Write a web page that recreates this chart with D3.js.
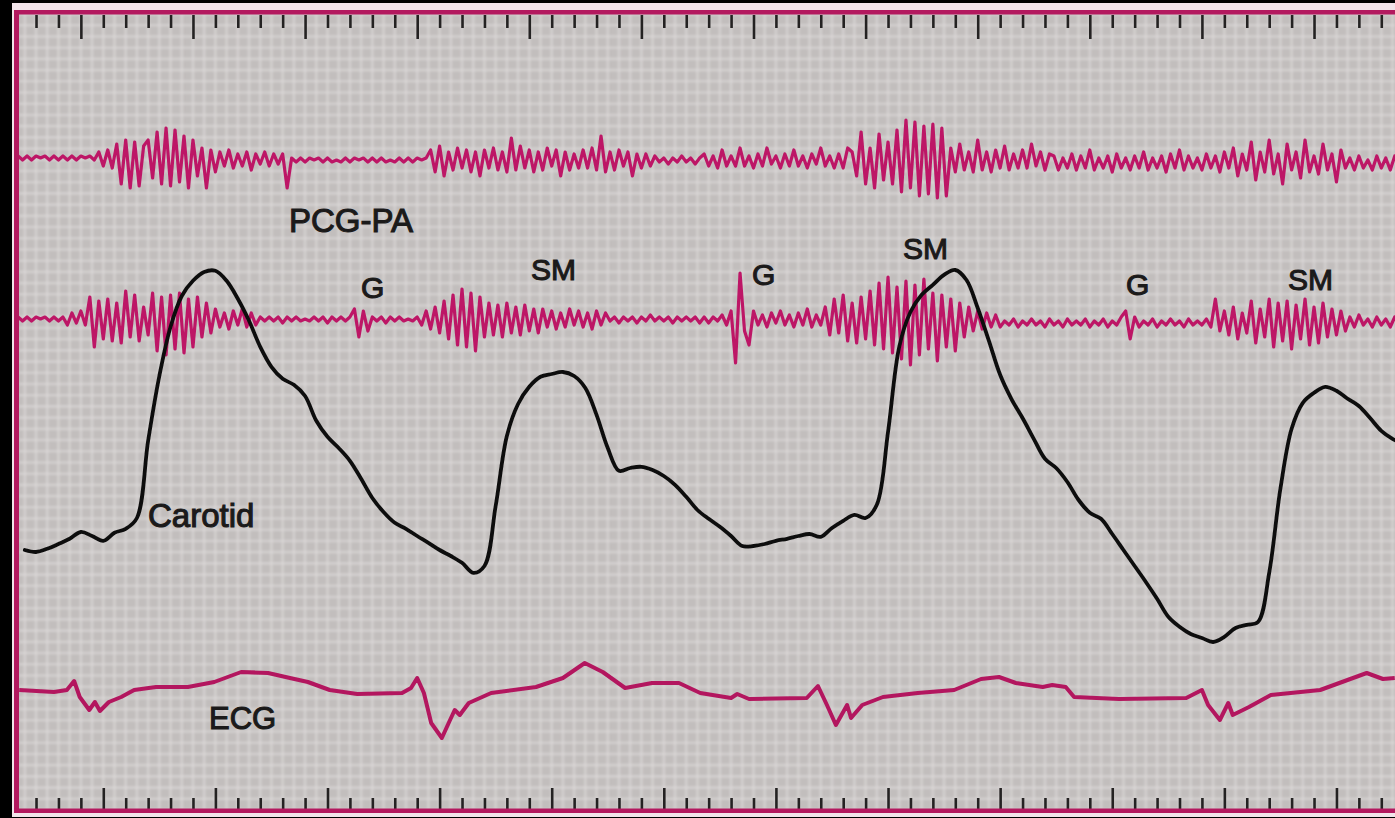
<!DOCTYPE html>
<html>
<head>
<meta charset="utf-8">
<script src="https://cdn.jsdelivr.net/npm/d3@7"></script>
<style>
  html, body { margin: 0; padding: 0; background: #000; }
  svg { display: block; }
  text { font-family: "Liberation Sans", Arial, Helvetica, sans-serif; }
</style>
</head>
<body>
<svg id="chart" width="1395" height="818"></svg>
<script>
// ---- Recording data -------------------------------------------------------
// Time base in ms. Phonocardiogram channels are sampled every 8 ms,
// the carotid pulse every 20 ms, the ECG is stored as (time, value) vertices.
const pcgStart = 8, pcgStep = 8;
const carotidStart = 20, carotidStep = 20;

// Pulmonary-area phonocardiogram (amplitude, arbitrary units)
const pcgPA = [
  2,0,2,0,2,1,2,0,2,0,2,0,2,0,2,1,2,0,
  4,-3,5,-4,
  8,-12,10,-14,9,-13,7,
  10,-9,14,-12,16,-13,15,-11,12,-14,10,-8,
  6,-14,5,-6,
  4,-3,5,-4,3,-3,4,-5,3,-2,4,-3,3,-2,
  3,-14,
  1,-1,1,-1,1,0,1,-1,1,-1,0,-1,1,-1,1,0,1,-1,1,-1,1,-1,0,-1,1,-1,1,-1,1,0,1,
  5,-6,7,-8,
  4,-5,6,-4,5,-6,4,-8,5,-4, 6,-5,4,-6,11,-5,7,-4,5,-6, 4,-5,6,-3,5,-8,4,-5,3,-4,
  5,-4,6,-5,12,-6,4,-5,5,-3, 4,-8,3,-4,3,-3,
  2,-1,1,-2,1,-1,2,-1,1,-2,1,
  3,-3,2,-4,5,-3,2,-3,6,-3, 2,-4,3,-3,6,-2,2,-4,3,-3, 5,-3,2,-4,3,-2,6,-3,2,-4, 3,-4,6,
  4,-8,14,-12,6,-14,13,-10,9,-12,15,-16,20,-14,19,-18,17,-17,18,-19,16,-18,6,
  -6,8,-5,4,-6,10,-5,4,-6,5,-4,7,-5,3,-4,5,-4,8,-3,4,-5,3,
  2,-5,1,-4,3,-5,2,-4,5,-5, 1,-4,2,-6,3,-4,1,-5,2,-4, 4,-5,1,-4,2,-6,3,-4,5,-5, 2,-4,1,-5,3,-4,2,-6,4,-4,
  6,-8,3,-5,9,-10,4,-6,10,-7,3,-12,8,-5,4,-9,10,-6,2,-7,8,-5,3,-11,5,-4,
  1,-5,2,-4,0,-5,2,-4,1,-5,2,-4
];

// Second phonocardiogram channel (gallop G and systolic murmur SM)
const pcgSecond = [
  1,-1,1,-1,1,0,1,-1,1,-1,1,
  -3,3,-2,4,-3,
  11,-14,9,
  -10,10,-11,8,
  -12,14,-9,12,-11,6,-8,
  13,-16,11,-18,12,-15,13,-17,10,-14,
  11,-9,8,-7,5,
  -4,3,-5,4,-3,5,-4,3,-3,
  1,-1,1,-1,1,-2,1,-1,1,-1,0,-1,1,-1,1,-2,1,-1,1,-1,1,
  5,-9,4,-6,
  1,-1,1,-2,1,-1,1,-1,0,-1,1,
  -3,4,-5,6,-7,9,-10,12,-13,15,-14,13,-16,11,
  -9,8,-8,7,-9,8,-7,6,-8,7,-6,5,-7,
  5,-4,4,-5,3,-4,5,-3,4,-4,3,-5,4,-3,3,
  -1,1,-2,1,-1,1,-2,1,-1,2,-1,1,-1,1,-2,1,-1,1,-1,1,-2,1,-2,1,-1,
  2,-3,4,-22,23,-6,-13,4,
  -3,2,-4,3,-2,4,-3,2,-4,3,-3,5,-4,2,-3,
  6,-8,10,-7,12,-11,8,-12,11,
  -10,14,-13,18,-15,21,-17,16,-20,19,-23,17,-18,20,-15,13,-21,12,-14,10,-16,8,-9,6,
  -6,4,-5,3,-4,2,-4,
  -1,-3,0,-4,-1,-3,0,-3,-1,-4, 0,-3,-1,-4,0,-3,-1,-3,0,-4, -1,-3,0,-4,-1,-3,1,4,-10,1,
  -4,-1,-3,0,-4,-1,-3,0,-3,-1, -4,0,-3,-1,-3,0,-4,
  10,
  -6,4,-8,6,-10,3,-7,9,-12,5,-9,10,-14,8,-11,9,-15,7,-10,10,-13,6,-12,8,-9,5,-8,4,-6,
  1,-4,2,-3,0,-4,1,-3,0,-4,1,-3
];

// Carotid pulse tracing (percent of full deflection)
const carotid = [
  25,24.5,25.3,26.5,27.8,29.5,28.5,27.3,29.3,30.3,
  33,52.3,68.5,80.8,88.5,92.3,94.5,94.8,92.3,87.8,
  82.3,75.8,70.8,67.8,66.3,63.5,57.3,53.3,50.5,47.3,
  42.8,38,34.5,31.8,30.3,28.5,26.8,25,23.5,21.8,
  19.3,21,36,53.5,61.5,65.8,68.3,69,69.5,68.5,
  65.5,58.8,50.5,44.8,45.5,45.8,45,43.5,41.3,38.3,
  35,32.8,30.8,28.5,26,26,26.5,27.3,27.8,28.5,
  29,28.3,30.5,32.3,33.8,33,36.3,54.5,75.8,84.5,
  88.8,91.3,93.8,95,92.5,85.5,77.3,68.8,62.8,58,
  52.8,47.8,45.5,42,37.5,34.3,32.8,29,25,21,
  17,12.8,8.3,5.8,4,3,2,3.3,5.5,6.3,
  7,19.3,40.3,55.3,61.8,64.3,65.8,64.8,62.8,61,
  58,54.8,52.8,51.5
];

// ECG vertices: time (ms) and deflection (arbitrary units)
const ecgTime = [
  10,72,95,108,118,135,145,154,170,192,
  215,254,311,358,406,454,493,525,564,613,
  693,709,720,732,745,764,777,787,796,812,
  852,932,980,1019,1051,1091,1139,1187,1225,1280,
  1291,1312,1415,1435,1451,1467,1487,1494,1514,1551,
  1613,1678,1726,1758,1788,1836,1853,1877,1892,1972,
  2092,2120,2131,2152,2167,2175,2204,2243,2331,2370,
  2414,2443,2464
];
const ecgValue = [
  0,-0.5,0,2.25,-1.75,-5,-3,-5.25,-3,-1.75,
  0,0.75,0.75,2,4.5,4.25,3,2,0,-1,
  -0.75,0.5,3,-0.75,-8.25,-12,-8,-5,-6.25,-3.25,
  -0.75,0.75,3,6.75,4.5,0.5,1.75,1.75,-0.75,-2,
  -1,-2.25,-2,1,-3.75,-8.75,-3.75,-7,-3.75,-1.75,
  -0.75,0,2.75,3.25,1.75,0.75,1.25,0.75,-1.75,-2.25,
  -2,0,-3.75,-7.5,-3.25,-6.25,-4.25,-1.25,0,2,
  4.25,2.75,3
];

// Annotation texts
const channelNames = ["PCG-PA", "Carotid", "ECG"];
const eventNames = ["G", "SM", "G", "SM", "G", "SM"];

// Timing marker settings (ms)
const markerStep = 40, markerEnd = 2460;
const topMajorPhase = 120, bottomMajorPhase = 160, majorEvery = 200;
const gridStep = 20;

// ---- Layout ---------------------------------------------------------------
const W = 1395, H = 818;
const paper = { x0: 19, x1: W, y0: 14, y1: 810 };
const svg = d3.select("#chart");

const x = d3.scaleLinear().domain([0, 2460]).range([13.6, 1392.5]);
const mmPx = x(gridStep) - x(0);

const yPA = d3.scaleLinear().domain([-20, 20]).range([200, 120]);
const ySecond = d3.scaleLinear().domain([-20, 20]).range([359, 279]);
const yCarotid = d3.scaleLinear().domain([0, 100]).range([650, 250]);
const yEcg = d3.scaleLinear().domain([-10, 10]).range([730, 650]);

// Background, paper edge and recording paper
svg.append("rect").attr("width", W).attr("height", H).attr("fill", "#000");
svg.append("rect").attr("x", 12).attr("y", 3).attr("width", W - 12).attr("height", 814)
  .attr("fill", "#f2e4ea");
svg.append("rect").attr("x", paper.x0).attr("y", paper.y0)
  .attr("width", paper.x1 - paper.x0).attr("height", paper.y1 - paper.y0)
  .attr("fill", "#c2bebd");

const defs = svg.append("defs");
defs.append("clipPath").attr("id", "paperClip").append("rect")
  .attr("x", paper.x0).attr("y", paper.y0)
  .attr("width", paper.x1 - paper.x0).attr("height", paper.y1 - paper.y0);
defs.append("filter").attr("id", "soft").append("feGaussianBlur").attr("stdDeviation", 0.9);
defs.append("filter").attr("id", "ink").append("feGaussianBlur").attr("stdDeviation", 0.35);

// Millimetre grid
const grid = svg.append("g").attr("clip-path", "url(#paperClip)")
  .attr("filter", "url(#soft)");
const vTimes = d3.range(0, markerEnd + gridStep, gridStep).filter(t => x(t) > paper.x0);
grid.selectAll("line.v").data(vTimes).join("line").attr("class", "v")
  .attr("x1", d => x(d)).attr("x2", d => x(d))
  .attr("y1", paper.y0).attr("y2", paper.y1)
  .attr("stroke", "#dedbda").attr("stroke-width", 2.6).attr("opacity", 0.6);
const hRows = d3.range(0, Math.ceil((paper.y1 - paper.y0) / mmPx) + 1);
grid.selectAll("line.h").data(hRows).join("line").attr("class", "h")
  .attr("x1", paper.x0).attr("x2", paper.x1)
  .attr("y1", d => paper.y1 - d * mmPx).attr("y2", d => paper.y1 - d * mmPx)
  .attr("stroke", "#dedbda").attr("stroke-width", 2.6).attr("opacity", 0.6);

// Timing markers along the top and bottom edges
const markerTimes = d3.range(markerStep, markerEnd, markerStep);
function drawMarks(y, axisFn, values, size) {
  const g = svg.append("g").attr("transform", `translate(0,${y})`)
    .call(axisFn(x).tickValues(values).tickSize(size).tickFormat(""));
  g.select(".domain").remove();
  g.selectAll(".tick line").attr("stroke", "#242222").attr("stroke-width", 2.6);
}
const isTopMajor = t => (t - topMajorPhase) % majorEvery === 0;
const isBottomMajor = t => (t - bottomMajorPhase) % majorEvery === 0;
drawMarks(15, d3.axisBottom, markerTimes.filter(t => !isTopMajor(t)), 13);
drawMarks(15, d3.axisBottom, markerTimes.filter(isTopMajor), 24);
drawMarks(810, d3.axisTop, markerTimes.filter(t => !isBottomMajor(t)), 12);
drawMarks(810, d3.axisTop, markerTimes.filter(isBottomMajor), 22);

// Traces
const traces = svg.append("g").attr("clip-path", "url(#paperClip)")
  .attr("filter", "url(#ink)");
const pcgLine = yScale => d3.line()
  .x((d, i) => x(pcgStart + i * pcgStep)).y(d => yScale(d));
const pcgColor = "#bd1766";

traces.append("path").datum(pcgPA).attr("d", pcgLine(yPA))
  .attr("fill", "none").attr("stroke", pcgColor).attr("stroke-width", 3.2)
  .attr("stroke-linejoin", "round");
traces.append("path").datum(pcgSecond).attr("d", pcgLine(ySecond))
  .attr("fill", "none").attr("stroke", pcgColor).attr("stroke-width", 3.2)
  .attr("stroke-linejoin", "round");

const ecgPoints = ecgTime.map((t, i) => [t, ecgValue[i]]);
traces.append("path").datum(ecgPoints)
  .attr("d", d3.line().x(d => x(d[0])).y(d => yEcg(d[1])))
  .attr("fill", "none").attr("stroke", "#b3175e").attr("stroke-width", 4)
  .attr("stroke-linejoin", "round");

traces.append("path").datum(carotid)
  .attr("d", d3.line()
    .x((d, i) => x(carotidStart + i * carotidStep)).y(d => yCarotid(d))
    .curve(d3.curveCatmullRom.alpha(0.5)))
  .attr("fill", "none").attr("stroke", "#111").attr("stroke-width", 3.8)
  .attr("stroke-linejoin", "round").attr("stroke-linecap", "round");

// Paper border
const border = "#b3195f";
svg.append("rect").attr("x", 14).attr("y", 10).attr("width", 5).attr("height", 803).attr("fill", border);
svg.append("rect").attr("x", 14).attr("y", 10).attr("width", W - 14).attr("height", 4.5).attr("fill", border);
svg.append("rect").attr("x", 14).attr("y", 808.5).attr("width", W - 14).attr("height", 4.5).attr("fill", border);

// Labels
const textColor = "#1b1a1a";
function label(txt, px, py, size) {
  svg.append("text").attr("x", px).attr("y", py).text(txt)
    .attr("font-size", size).attr("fill", textColor)
    .attr("stroke", textColor).attr("stroke-width", 1.1);
}
label(channelNames[0], 289, 232, 33);
label(channelNames[1], 148, 527, 33);
label(channelNames[2], 209, 729, 31);

const eventPos = [[361, 298], [531, 280], [752, 285], [903, 259], [1126, 295], [1288, 290]];
eventNames.forEach((n, i) => label(n, eventPos[i][0], eventPos[i][1], 30));
</script>
</body>
</html>
